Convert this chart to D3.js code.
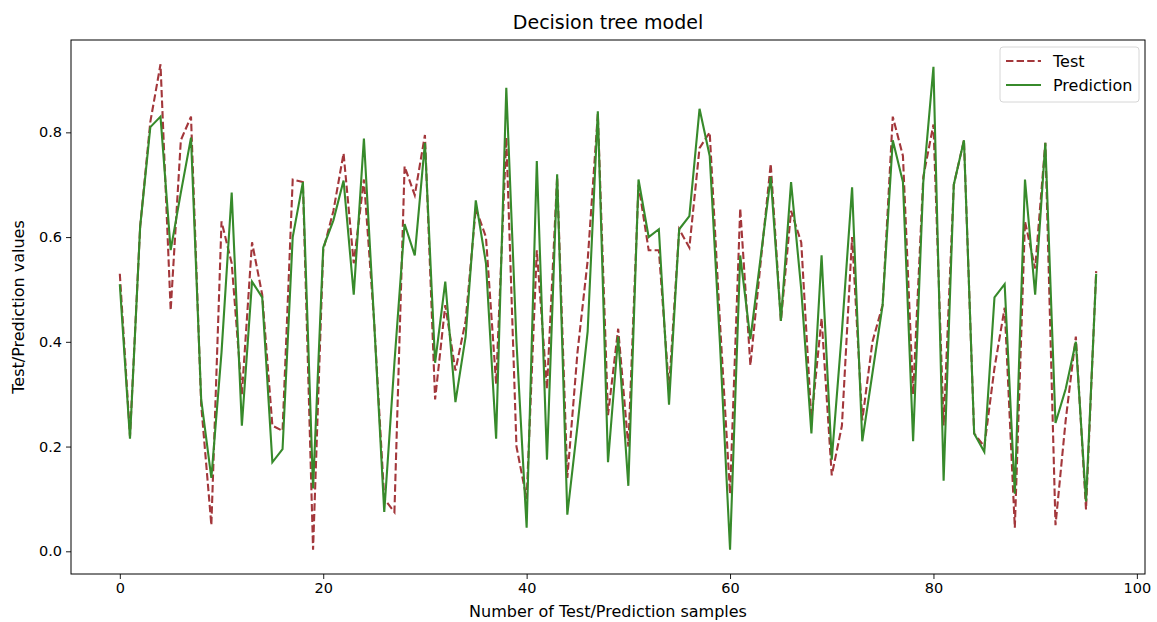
<!DOCTYPE html>
<html lang="en">

<head>
    <meta charset="UTF-8">
    <title>Decision tree model</title>
    <script src="https://d3js.org/d3.v7.min.js"></script>
    <style>
        body { margin: 0; background: #fff; }
        text { font-family: "DejaVu Sans", sans-serif; fill: #000; }
    </style>
</head>

<body>
    <script>
        // values, sample index 0..96
        var testValues = [
            0.53, 0.22, 0.62, 0.82, 0.93, 0.46, 0.785, 0.83, 0.28, 0.05,
            0.63, 0.55, 0.30, 0.59, 0.49, 0.24, 0.23, 0.71, 0.705, 0.003,
            0.575, 0.65, 0.76, 0.55, 0.71, 0.44, 0.10, 0.075, 0.735, 0.68,
            0.795, 0.29, 0.47, 0.345, 0.44, 0.655, 0.60, 0.32, 0.79, 0.20,
            0.10, 0.575, 0.31, 0.715, 0.14, 0.38, 0.555, 0.835, 0.26, 0.425,
            0.20, 0.70, 0.575, 0.575, 0.31, 0.615, 0.58, 0.77, 0.80, 0.44,
            0.11, 0.655, 0.355, 0.55, 0.74, 0.44, 0.65, 0.59, 0.25, 0.445,
            0.145, 0.24, 0.60, 0.25, 0.40, 0.47, 0.83, 0.755, 0.30, 0.715,
            0.815, 0.24, 0.70, 0.785, 0.225, 0.20, 0.35, 0.465, 0.045, 0.63,
            0.54, 0.78, 0.05, 0.25, 0.41, 0.08, 0.535
        ];
        var predValues = [
            0.51, 0.215, 0.62, 0.81, 0.83, 0.575, 0.685, 0.79, 0.29, 0.14,
            0.38, 0.685, 0.24, 0.515, 0.485, 0.17, 0.195, 0.60, 0.705, 0.12,
            0.58, 0.632, 0.708, 0.49, 0.788, 0.44, 0.075, 0.36, 0.625, 0.565,
            0.78, 0.36, 0.515, 0.285, 0.41, 0.67, 0.55, 0.215, 0.885, 0.40,
            0.045, 0.745, 0.175, 0.72, 0.07, 0.24, 0.42, 0.84, 0.17, 0.41,
            0.125, 0.71, 0.60, 0.615, 0.28, 0.615, 0.64, 0.845, 0.755, 0.40,
            0.003, 0.565, 0.405, 0.56, 0.715, 0.44, 0.705, 0.50, 0.225, 0.565,
            0.175, 0.42, 0.695, 0.21, 0.34, 0.47, 0.785, 0.705, 0.21, 0.705,
            0.925, 0.135, 0.70, 0.785, 0.225, 0.19, 0.485, 0.51, 0.11, 0.71,
            0.49, 0.78, 0.245, 0.31, 0.40, 0.095, 0.53
        ];
        var xTicks = [0, 20, 40, 60, 80, 100];
        var yTicks = [0.0, 0.2, 0.4, 0.6, 0.8];
        var seriesNames = ["Test", "Prediction"];
        var seriesColors = ["#a3373b", "#378a2b"];

        var width = 1157, height = 622;
        var margin = { left: 71, top: 40, right: 12, bottom: 48 };
        var plotW = width - margin.left - margin.right;
        var plotH = height - margin.top - margin.bottom;

        var svg = d3.select("body")
            .append("svg")
            .attr("width", width)
            .attr("height", height);

        // matplotlib style 5% margins
        var n = testValues.length - 1;
        var x = d3.scaleLinear()
            .domain([-0.05 * n, n * 1.05])
            .range([margin.left, margin.left + plotW]);

        var all = testValues.concat(predValues);
        var lo = d3.min(all), hi = d3.max(all), pad = (hi - lo) * 0.05;
        var y = d3.scaleLinear()
            .domain([lo - pad, hi + pad])
            .range([margin.top + plotH, margin.top]);

        var xAxis = svg.append("g")
            .attr("transform", "translate(0," + (margin.top + plotH) + ")")
            .call(d3.axisBottom(x).tickValues(xTicks).tickFormat(d3.format("d")).tickSize(5).tickPadding(4));
        var yAxis = svg.append("g")
            .attr("transform", "translate(" + margin.left + ",0)")
            .call(d3.axisLeft(y).tickValues(yTicks).tickFormat(d3.format(".1f")).tickSize(5).tickPadding(4));
        [xAxis, yAxis].forEach(function (g) {
            g.select(".domain").remove();
            g.selectAll("line").attr("stroke", "#000").attr("stroke-width", 0.9);
            g.selectAll("text").attr("font-size", 14.5).attr("font-family", "DejaVu Sans");
        });

        var line = d3.line()
            .x(function (d, i) { return x(i); })
            .y(function (d) { return y(d); });

        svg.append("path")
            .datum(testValues)
            .attr("fill", "none")
            .attr("stroke", seriesColors[0])
            .attr("stroke-width", 2.1)
            .attr("stroke-dasharray", "7.4,3.2")
            .attr("d", line);

        svg.append("path")
            .datum(predValues)
            .attr("fill", "none")
            .attr("stroke", seriesColors[1])
            .attr("stroke-width", 2.1)
            .attr("d", line);

        // frame
        svg.append("rect")
            .attr("x", margin.left)
            .attr("y", margin.top)
            .attr("width", plotW)
            .attr("height", plotH)
            .attr("fill", "none")
            .attr("stroke", "#000")
            .attr("stroke-width", 1);

        svg.append("text")
            .attr("x", margin.left + plotW / 2)
            .attr("y", 29)
            .attr("text-anchor", "middle")
            .attr("font-size", 19)
            .text("Decision tree model");

        svg.append("text")
            .attr("x", margin.left + plotW / 2)
            .attr("y", 617)
            .attr("text-anchor", "middle")
            .attr("font-size", 16)
            .text("Number of Test/Prediction samples");

        svg.append("text")
            .attr("transform", "translate(24," + (margin.top + plotH / 2) + ") rotate(-90)")
            .attr("text-anchor", "middle")
            .attr("font-size", 16)
            .text("Test/Prediction values");

        // legend
        var lg = svg.append("g").attr("transform", "translate(1000,47)");
        lg.append("rect")
            .attr("width", 139)
            .attr("height", 55)
            .attr("rx", 3)
            .attr("fill", "#fff")
            .attr("fill-opacity", 0.8)
            .attr("stroke", "#d6d6d6");
        seriesNames.forEach(function (name, i) {
            var yy = 14 + i * 24;
            lg.append("line")
                .attr("x1", 6).attr("x2", 41)
                .attr("y1", yy).attr("y2", yy)
                .attr("stroke", seriesColors[i])
                .attr("stroke-width", 2.1)
                .attr("stroke-dasharray", i === 0 ? "7.4,3.2" : null);
            lg.append("text")
                .attr("x", 53)
                .attr("y", yy + 5.5)
                .attr("font-size", 16)
                .text(name);
        });
    </script>
</body>

</html>
